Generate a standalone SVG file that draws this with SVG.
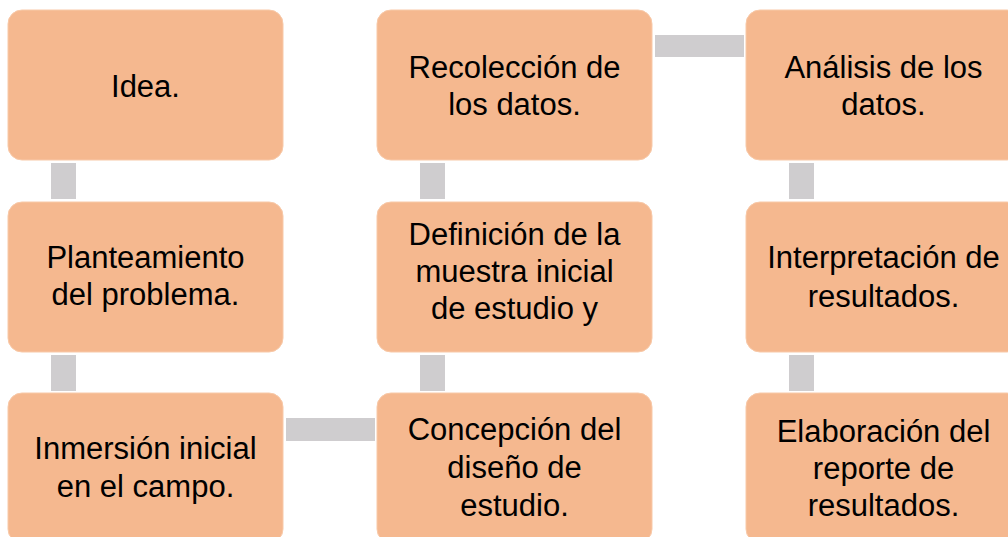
<svg xmlns="http://www.w3.org/2000/svg" width="1008" height="537" viewBox="0 0 1008 537">
<style>
.box{fill:#F5B88F;stroke:#F8C9A8;stroke-width:1}
.con{fill:#CFCDCF}
.t{font-family:"Liberation Sans",Arial,sans-serif;font-size:31px;fill:#000;text-anchor:middle}
</style>
<rect width="1008" height="537" fill="#FFFFFF"/>
<g id="connectors">
<rect class="con" x="51" y="163" width="25" height="36"/>
<rect class="con" x="51" y="355" width="25" height="36"/>
<rect class="con" x="286" y="418" width="89" height="23"/>
<rect class="con" x="420" y="355" width="25" height="36"/>
<rect class="con" x="420" y="163" width="25" height="36"/>
<rect class="con" x="655" y="35" width="89" height="22"/>
<rect class="con" x="789" y="163" width="25" height="36"/>
<rect class="con" x="789" y="355" width="25" height="36"/>
</g>
<g id="idea">
<rect class="box" x="8" y="10" width="275" height="150" rx="14"/>
<text class="t" x="145.5" y="97">Idea.</text>
</g>
<g id="planteamiento">
<rect class="box" x="8" y="202" width="275" height="150" rx="14"/>
<text class="t" x="145.5" y="268">Planteamiento</text>
<text class="t" x="145.5" y="305">del problema.</text>
</g>
<g id="inmersion">
<rect class="box" x="8" y="393" width="275" height="150" rx="14"/>
<text class="t" x="145.5" y="459">Inmersión inicial</text>
<text class="t" x="145.5" y="497">en el campo.</text>
</g>
<g id="concepcion">
<rect class="box" x="377" y="393" width="275" height="150" rx="14"/>
<text class="t" x="514.5" y="440">Concepción del</text>
<text class="t" x="514.5" y="478">diseño de</text>
<text class="t" x="514.5" y="516">estudio.</text>
</g>
<g id="definicion">
<rect class="box" x="377" y="202" width="275" height="150" rx="14"/>
<text class="t" x="514.5" y="245">Definición de la</text>
<text class="t" x="514.5" y="282">muestra inicial</text>
<text class="t" x="514.5" y="319">de estudio y</text>
</g>
<g id="recoleccion">
<rect class="box" x="377" y="10" width="275" height="150" rx="14"/>
<text class="t" x="514.5" y="78">Recolección de</text>
<text class="t" x="514.5" y="115">los datos.</text>
</g>
<g id="analisis">
<rect class="box" x="746" y="10" width="275" height="150" rx="14"/>
<text class="t" x="883.5" y="78">Análisis de los</text>
<text class="t" x="883.5" y="115">datos.</text>
</g>
<g id="interpretacion">
<rect class="box" x="746" y="202" width="275" height="150" rx="14"/>
<text class="t" x="883.5" y="268">Interpretación de</text>
<text class="t" x="883.5" y="307">resultados.</text>
</g>
<g id="elaboracion">
<rect class="box" x="746" y="393" width="275" height="150" rx="14"/>
<text class="t" x="883.5" y="442">Elaboración del</text>
<text class="t" x="883.5" y="479">reporte de</text>
<text class="t" x="883.5" y="516">resultados.</text>
</g>
</svg>
